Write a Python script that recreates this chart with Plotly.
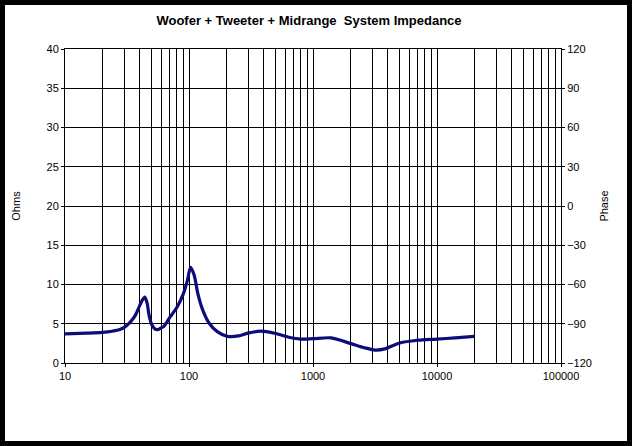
import plotly.graph_objects as go

# ==================== Data ====================
freq = [10, 15, 20, 24, 28, 31, 34, 37, 40, 42, 44, 46, 47.5, 50, 53, 56, 60, 63, 70, 80,
        90, 97, 103, 110, 118, 128, 145, 169, 204, 250, 298, 380, 500, 650, 800,
        1000, 1400, 2000, 2600, 3160, 3800, 5000, 7000, 10000, 14000, 20000]
ohms = [3.7, 3.8, 3.9, 4.05, 4.3, 4.7, 5.3, 6.1, 7.3, 8.0, 8.4, 7.6, 6.2, 4.9, 4.35, 4.25, 4.5, 4.7, 5.8, 7.1,
        8.8, 10.5, 12.2, 11.2, 8.8, 6.9, 5.1, 4.0, 3.4, 3.45, 3.8, 4.05, 3.75, 3.25, 3.05,
        3.1, 3.2, 2.5, 1.95, 1.65, 1.8, 2.55, 2.9, 3.05, 3.2, 3.4]

x_ticks = [10, 100, 1000, 10000, 100000]
x_labels = ['10', '100', '1000', '10000', '100000']

title = 'Woofer + Tweeter + Midrange  System Impedance'

# ==================== Plot ====================
fig = go.Figure()

fig.add_trace(go.Scatter(
    x=freq,
    y=ohms,
    mode='lines',
    line=dict(color='#0c0c7a', width=3.2, shape='spline', smoothing=0.8),
    showlegend=False
))

# empty trace so the phase axis gets drawn
fig.add_trace(go.Scatter(x=[None], y=[None], yaxis='y2', showlegend=False))

axis_font = dict(family='Arial, Liberation Sans, sans-serif', size=11, color='black')

# plot area in pixels: 65..561 wide, 49..363 high
pw = 632 - 65 - 71
ph = 446 - 49 - 83

fig.update_layout(
    width=632,
    height=446,
    margin=dict(l=65, r=71, t=49, b=83),
    paper_bgcolor='white',
    plot_bgcolor='white',
    font=axis_font,
    title=dict(text='<b>' + title + '</b>', x=309 / 632, xanchor='center',
               y=1 - 20 / 446, yanchor='middle', automargin=False,
               font=dict(family='Arial, Liberation Sans, sans-serif', size=13, color='black')),
    xaxis=dict(
        type='log', range=[1, 5], automargin=False,
        tickvals=x_ticks, ticktext=x_labels,
        showgrid=True, gridcolor='black', gridwidth=1,
        minor=dict(dtick='D1', showgrid=True, gridcolor='black', gridwidth=1),
        showline=True, linecolor='black', linewidth=1, mirror=True,
        ticks='outside', ticklen=3, tickcolor='black',
        zeroline=False, tickfont=axis_font
    ),
    yaxis=dict(
        range=[0, 40], dtick=5, automargin=False,
        showgrid=True, gridcolor='black', gridwidth=1,
        showline=True, linecolor='black', linewidth=1, mirror=True,
        ticks='outside', ticklen=3, tickcolor='black',
        zeroline=False, tickfont=axis_font,
        title=dict(text='Ohms', font=axis_font, standoff=23)
    ),
    yaxis2=dict(
        overlaying='y', side='right', automargin=False,
        range=[-120, 120], dtick=30,
        showgrid=False, zeroline=False,
        ticks='outside', ticklen=3, tickcolor='black',
        tickfont=axis_font,
        title=dict(text='Phase', font=axis_font, standoff=9)
    ),
    shapes=[dict(
        type='rect', xref='paper', yref='paper',
        x0=(2.5 - 65) / pw, x1=(629.5 - 65) / pw,
        y0=-(443.5 - 363) / ph, y1=1 + 46.5 / ph,
        line=dict(color='black', width=5), fillcolor='rgba(0,0,0,0)', layer='above'
    )]
)

# page body has a default 8px margin; drop it so the figure sits at the window corner
fig.write_html("out.html", config={'displayModeBar': False},
               post_script="document.body.style.margin='0';")
